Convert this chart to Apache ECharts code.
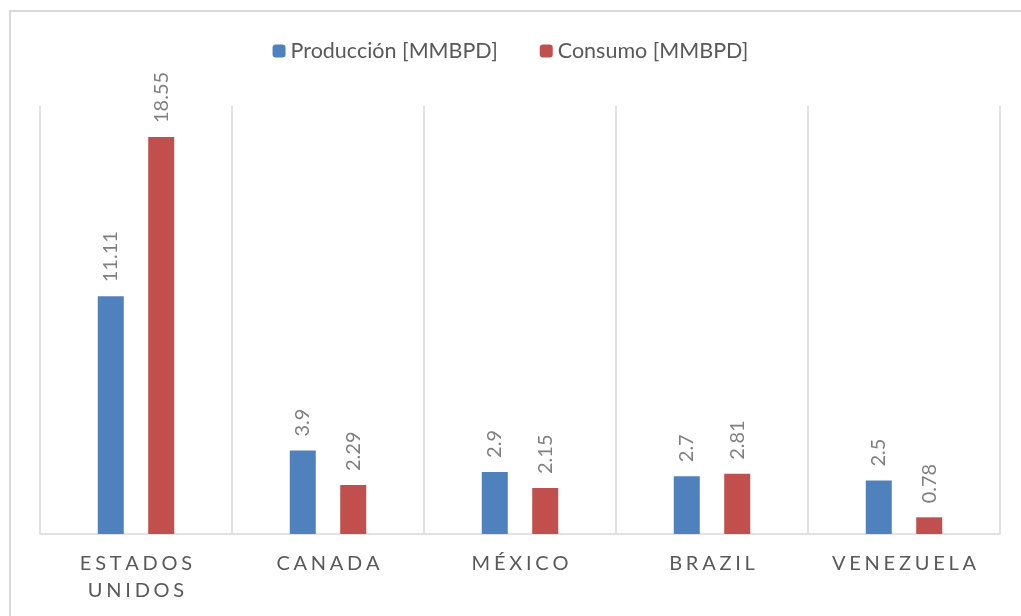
<!DOCTYPE html>
<html>
<head>
<meta charset="utf-8">
<script src="https://cdn.jsdelivr.net/npm/echarts@6/dist/echarts.min.js"></script>
<style>
  html, body { margin: 0; padding: 0; background: #fff; }
  #chart { width: 1021px; height: 616px; }
</style>
</head>
<body>
<div id="chart"></div>
<script>
const paises = ['ESTADOS UNIDOS', 'CANADA', 'MÉXICO', 'BRAZIL', 'VENEZUELA']
const produccion = [11.11, 3.9, 2.9, 2.7, 2.5]
const consumo = [18.55, 2.29, 2.15, 2.81, 0.78]
const nombres = ['Producción [MMBPD]', 'Consumo [MMBPD]']

const font = 'Lato, "Open Sans", sans-serif'

// espaciado de letras como en el original
function espaciar(v) {
  return v.split(' ').map(w => w.split('').join('\u2009\u200a')).join('\n')
}

const labelCfg = {
  show: true,
  position: 'top',
  rotate: 90,
  align: 'left',
  verticalAlign: 'middle',
  distance: 14,
  color: '#7f7f7f',
  fontSize: 20,
  fontFamily: font
}

const chart = echarts.init(document.getElementById('chart'))
chart.setOption({
  animation: false,
  textStyle: { fontFamily: font },
  graphic: [
    {
      type: 'rect',
      shape: { x: 10, y: 11, width: 1100, height: 700 },
      style: { fill: 'none', stroke: '#d9d9d9', lineWidth: 2 },
      silent: true
    }
  ],
  legend: {
    top: 35,
    left: 'center',
    itemWidth: 13,
    itemHeight: 13,
    itemGap: 42,
    textStyle: { color: '#595959', fontSize: 21.5, fontFamily: font },
    data: nombres
  },
  grid: {
    left: 40,
    right: 21,
    top: 106,
    bottom: 82
  },
  xAxis: {
    type: 'category',
    data: paises,
    axisTick: { show: false },
    axisLine: { lineStyle: { color: '#d9d9d9', width: 1.5 } },
    splitLine: { show: true, lineStyle: { color: '#d9d9d9', width: 1.5 } },
    axisLabel: {
      color: '#595959',
      fontSize: 20,
      lineHeight: 27,
      margin: 16,
      interval: 0,
      formatter: espaciar
    }
  },
  yAxis: {
    type: 'value',
    min: 0,
    max: 20,
    show: false,
    splitLine: { show: false }
  },
  series: [
    {
      name: nombres[0],
      type: 'bar',
      data: produccion,
      barWidth: 26,
      barGap: '94%',
      itemStyle: { color: '#4f81bd' },
      label: labelCfg
    },
    {
      name: nombres[1],
      type: 'bar',
      data: consumo,
      barWidth: 26,
      itemStyle: { color: '#c0504d' },
      label: labelCfg
    }
  ]
})
</script>
</body>
</html>
